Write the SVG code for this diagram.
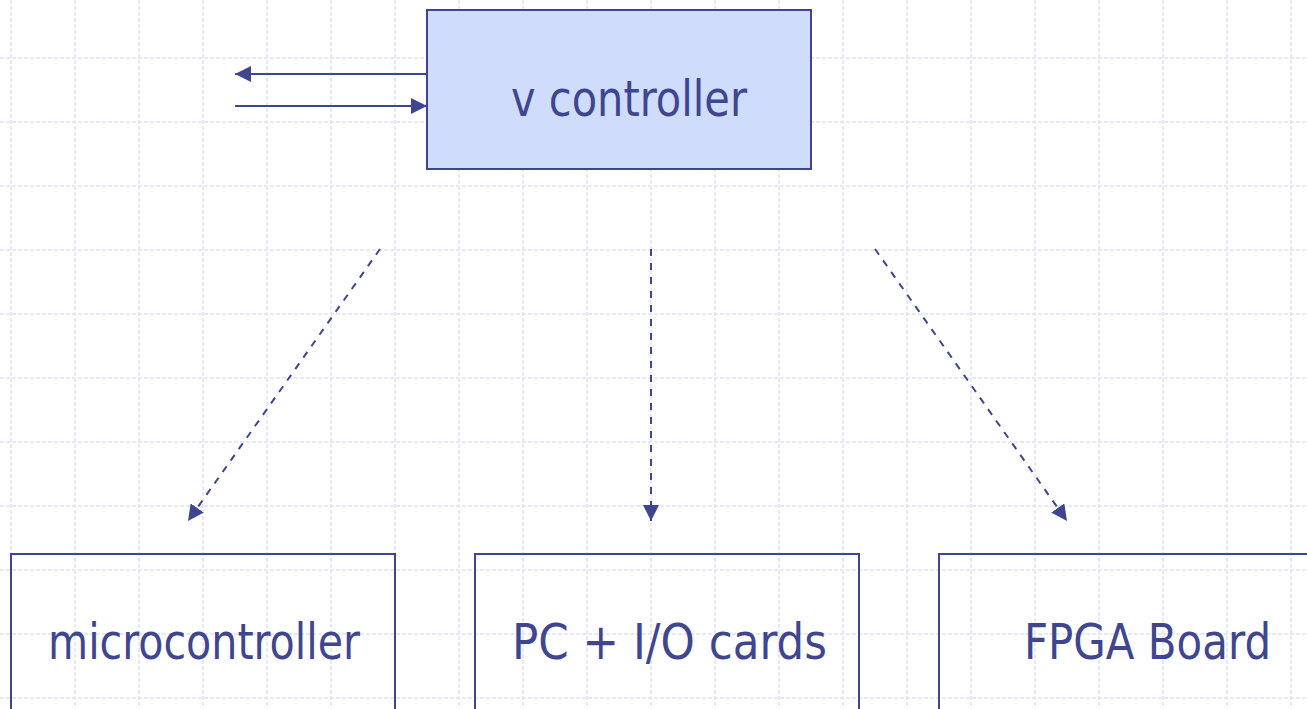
<svg xmlns="http://www.w3.org/2000/svg" width="1307" height="709" viewBox="0 0 1307 709">
  <style>
    .grid line { stroke: #dce3fc; stroke-width: 1.5; stroke-dasharray: 4 2; }
    .box { fill: none; stroke: #3f468f; stroke-width: 2; }
    .box.main { fill: #cfdcfb; }
    .label { font-family: "DejaVu Sans", "Liberation Sans", sans-serif; font-size: 49px; fill: #3f468f; }
    .link { stroke: #3f468f; stroke-width: 2; fill: none; }
    .link.dashed { stroke-dasharray: 7 7; }
  </style>
  <defs>
    <marker id="head" viewBox="0 0 16 16" refX="16" refY="8" markerWidth="16" markerHeight="16" markerUnits="userSpaceOnUse" orient="auto">
      <path d="M0,0 L16,8 L0,16 Z" fill="#3f468f"/>
    </marker>
  </defs>

  <rect width="1307" height="709" fill="#ffffff"/>

  <!-- background grid, 64px pitch -->
  <g class="grid">
    <line x1="11" y1="0" x2="11" y2="709"/>
    <line x1="75" y1="0" x2="75" y2="709"/>
    <line x1="139" y1="0" x2="139" y2="709"/>
    <line x1="203" y1="0" x2="203" y2="709"/>
    <line x1="267" y1="0" x2="267" y2="709"/>
    <line x1="331" y1="0" x2="331" y2="709"/>
    <line x1="395" y1="0" x2="395" y2="709"/>
    <line x1="459" y1="0" x2="459" y2="709"/>
    <line x1="523" y1="0" x2="523" y2="709"/>
    <line x1="587" y1="0" x2="587" y2="709"/>
    <line x1="651" y1="0" x2="651" y2="709"/>
    <line x1="715" y1="0" x2="715" y2="709"/>
    <line x1="779" y1="0" x2="779" y2="709"/>
    <line x1="843" y1="0" x2="843" y2="709"/>
    <line x1="907" y1="0" x2="907" y2="709"/>
    <line x1="971" y1="0" x2="971" y2="709"/>
    <line x1="1035" y1="0" x2="1035" y2="709"/>
    <line x1="1099" y1="0" x2="1099" y2="709"/>
    <line x1="1163" y1="0" x2="1163" y2="709"/>
    <line x1="1227" y1="0" x2="1227" y2="709"/>
    <line x1="1291" y1="0" x2="1291" y2="709"/>
    <line x1="0" y1="58" x2="1307" y2="58"/>
    <line x1="0" y1="122" x2="1307" y2="122"/>
    <line x1="0" y1="186" x2="1307" y2="186"/>
    <line x1="0" y1="250" x2="1307" y2="250"/>
    <line x1="0" y1="314" x2="1307" y2="314"/>
    <line x1="0" y1="378" x2="1307" y2="378"/>
    <line x1="0" y1="442" x2="1307" y2="442"/>
    <line x1="0" y1="506" x2="1307" y2="506"/>
    <line x1="0" y1="570" x2="1307" y2="570"/>
    <line x1="0" y1="634" x2="1307" y2="634"/>
    <line x1="0" y1="698" x2="1307" y2="698"/>
  </g>

  <!-- connectors -->
  <g id="connectors">
    <line class="link" x1="427" y1="74" x2="235" y2="74" marker-end="url(#head)"/>
    <line class="link" x1="235" y1="106" x2="427" y2="106" marker-end="url(#head)"/>
    <line class="link dashed" x1="380" y1="249" x2="188" y2="521" marker-end="url(#head)"/>
    <line class="link dashed" x1="651" y1="249" x2="651" y2="521" marker-end="url(#head)"/>
    <line class="link dashed" x1="875" y1="249" x2="1067" y2="521" marker-end="url(#head)"/>
  </g>

  <g id="v-controller">
    <rect class="box main" x="427" y="10" width="384" height="159"/>
    <text class="label" x="511" y="116" textLength="236" lengthAdjust="spacingAndGlyphs">v controller</text>
  </g>

  <!-- lower boxes run on past the bottom (and right) edge of the sheet -->
  <g id="microcontroller">
    <path class="box" d="M11,709 V554 H395 V709"/>
    <text class="label" x="48" y="659" textLength="312" lengthAdjust="spacingAndGlyphs">microcontroller</text>
  </g>

  <g id="pc-io-cards">
    <path class="box" d="M475,709 V554 H859 V709"/>
    <text class="label" x="512" y="659" textLength="315" lengthAdjust="spacingAndGlyphs">PC + I/O cards</text>
  </g>

  <g id="fpga-board">
    <path class="box" d="M939,709 V554 H1307"/>
    <text class="label" x="1024" y="659" textLength="247" lengthAdjust="spacingAndGlyphs">FPGA Board</text>
  </g>
</svg>
